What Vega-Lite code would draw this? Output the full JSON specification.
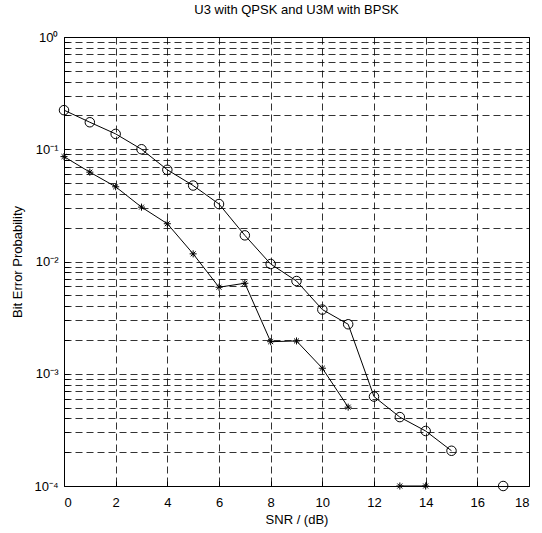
{
  "$schema": "https://vega.github.io/schema/vega-lite/v6.json",
  "autosize": {"type": "none"},
  "padding": {"left": 64, "top": 37, "right": 13, "bottom": 47},
  "width": 465,
  "height": 449,
  "background": "white",
  "config": {
    "view": {"stroke": "black", "strokeWidth": 1},
    "font": "Liberation Sans",
    "axis": {"labelFont": "Liberation Sans", "titleFont": "Liberation Sans", "labelColor": "black", "titleColor": "black", "titleFontWeight": "normal", "labelFontSize": 13, "titleFontSize": 13}
  },
  "title": {"text": "U3 with QPSK and U3M with BPSK", "fontSize": 13, "fontWeight": "normal", "font": "Liberation Sans", "color": "black", "offset": 14},
  "data": {"values": [
    {"snr": 0, "ber": 0.223, "s": "U3 QPSK"},
    {"snr": 1, "ber": 0.174, "s": "U3 QPSK"},
    {"snr": 2, "ber": 0.137, "s": "U3 QPSK"},
    {"snr": 3, "ber": 0.1, "s": "U3 QPSK"},
    {"snr": 4, "ber": 0.0656, "s": "U3 QPSK"},
    {"snr": 5, "ber": 0.0475, "s": "U3 QPSK"},
    {"snr": 6, "ber": 0.0325, "s": "U3 QPSK"},
    {"snr": 7, "ber": 0.0171, "s": "U3 QPSK"},
    {"snr": 8, "ber": 0.0095, "s": "U3 QPSK"},
    {"snr": 9, "ber": 0.0067, "s": "U3 QPSK"},
    {"snr": 10, "ber": 0.00373, "s": "U3 QPSK"},
    {"snr": 11, "ber": 0.00276, "s": "U3 QPSK"},
    {"snr": 12, "ber": 0.000626, "s": "U3 QPSK"},
    {"snr": 13, "ber": 0.000411, "s": "U3 QPSK"},
    {"snr": 14, "ber": 0.000309, "s": "U3 QPSK"},
    {"snr": 15, "ber": 0.000206, "s": "U3 QPSK"},
    {"snr": 16, "ber": null, "s": "U3 QPSK"},
    {"snr": 17, "ber": 0.0001, "s": "U3 QPSK"},
    {"snr": 0, "ber": 0.086, "s": "U3M BPSK"},
    {"snr": 1, "ber": 0.0625, "s": "U3M BPSK"},
    {"snr": 2, "ber": 0.0463, "s": "U3M BPSK"},
    {"snr": 3, "ber": 0.0305, "s": "U3M BPSK"},
    {"snr": 4, "ber": 0.0217, "s": "U3M BPSK"},
    {"snr": 5, "ber": 0.0117, "s": "U3M BPSK"},
    {"snr": 6, "ber": 0.0059, "s": "U3M BPSK"},
    {"snr": 7, "ber": 0.0064, "s": "U3M BPSK"},
    {"snr": 8, "ber": 0.00193, "s": "U3M BPSK"},
    {"snr": 9, "ber": 0.00196, "s": "U3M BPSK"},
    {"snr": 10, "ber": 0.00112, "s": "U3M BPSK"},
    {"snr": 11, "ber": 0.000504, "s": "U3M BPSK"},
    {"snr": 12, "ber": null, "s": "U3M BPSK"},
    {"snr": 13, "ber": 0.0001, "s": "U3M BPSK"},
    {"snr": 14, "ber": 0.0001, "s": "U3M BPSK"}
  ]},
  "encoding": {
    "x": {"field": "snr", "type": "quantitative", "scale": {"domain": [0, 18], "nice": false, "zero": false},
      "axis": {"title": "SNR / (dB)", "values": [0, 2, 4, 6, 8, 10, 12, 14, 16, 18], "grid": true, "gridDash": [7, 4], "gridColor": "black", "gridOpacity": 0.8, "gridWidth": 1, "domain": false, "ticks": true, "tickSize": -5, "tickColor": "black", "labelPadding": 15, "titlePadding": 4}},
    "y": {"field": "ber", "type": "quantitative", "scale": {"type": "log", "domain": [0.0001, 1], "nice": false},
      "axis": {"title": "Bit Error Probability", "values": [0.0001, 0.0002, 0.0003, 0.0004, 0.0005, 0.0006, 0.0007, 0.0008, 0.0009, 0.001, 0.002, 0.003, 0.004, 0.005, 0.006, 0.007, 0.008, 0.009, 0.01, 0.02, 0.03, 0.04, 0.05, 0.06, 0.07, 0.08, 0.09, 0.1, 0.2, 0.3, 0.4, 0.5, 0.6, 0.7, 0.8, 0.9, 1],
        "labelExpr": "abs(datum.value - 1) < 1e-9 ? '10⁰' : abs(datum.value - 0.1) < 1e-9 ? '10⁻¹' : abs(datum.value - 0.01) < 1e-10 ? '10⁻²' : abs(datum.value - 0.001) < 1e-11 ? '10⁻³' : abs(datum.value - 0.0001) < 1e-12 ? '10⁻⁴' : ''",
        "labelOverlap": false, "grid": true, "gridDash": [7, 4], "gridColor": "black", "gridOpacity": 0.8, "gridWidth": 1, "domain": false, "ticks": true, "tickSize": -5, "tickColor": "black", "labelPadding": 11, "titlePadding": 9}}
  },
  "layer": [
    {"mark": {"type": "line", "color": "black", "strokeWidth": 1, "invalid": "break-paths-show-path-domains"},
     "encoding": {"detail": {"field": "s"}}},
    {"mark": {"type": "point", "filled": false, "color": "black", "strokeWidth": 1, "opacity": 1},
     "encoding": {
       "shape": {"field": "s", "type": "nominal", "scale": {"domain": ["U3 QPSK", "U3M BPSK"], "range": ["circle", "M-1,0L1,0M0,-1L0,1M-0.7,-0.7L0.7,0.7M-0.7,0.7L0.7,-0.7"]}, "legend": null},
       "size": {"field": "s", "type": "nominal", "scale": {"domain": ["U3 QPSK", "U3M BPSK"], "range": [90, 50]}, "legend": null}
     }}
  ]
}
